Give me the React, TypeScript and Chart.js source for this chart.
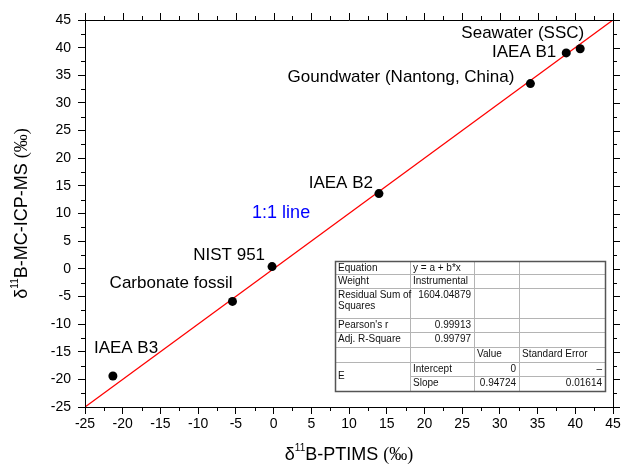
import React, { useEffect, useRef } from "react";
import { Chart, registerables } from "chart.js";

Chart.register(...registerables);

const FONT = "'Liberation Sans', Arial, Helvetica, sans-serif";
const SERIF = "'Liberation Serif', 'Times New Roman', serif";

// ---- data ----
const sampleNames = [
  "IAEA B3",
  "Carbonate fossil",
  "NIST 951",
  "IAEA B2",
  "Goundwater (Nantong, China)",
  "IAEA B1",
  "Seawater (SSC)",
];
const ptimsDelta = [-21.3, -5.45, -0.2, 13.97, 34.05, 38.8, 40.65];
const mcIcpmsDelta = [-19.4, -5.9, 0.4, 13.6, 33.5, 39.05, 39.8];

const oneToOneEnds = [-25, 45];
const oneToOneLabel = "1:1 line";
const oneToOneLabelAt = [1, 10];

const axisMin = -25;
const axisMax = 45;
const majorStep = 5;
const minorStep = 2.5;

const xTitleParts = ["δ", "11", "B-PTIMS ", "(‰)"];
const yTitleParts = ["δ", "11", "B-MC-ICP-MS ", "(‰)"];

const tableRows = [
  ["Equation", "y = a + b*x", "", ""],
  ["Weight", "Instrumental", "", ""],
  ["Residual Sum of\nSquares", "1604.04879", "", ""],
  ["Pearson's r", "0.99913", "", ""],
  ["Adj. R-Square", "0.99797", "", ""],
  ["", "", "Value", "Standard Error"],
  ["E", "Intercept", "0", "–"],
  ["", "Slope", "0.94724", "0.01614"],
];

// ---- styles / layout ----
// label offsets (px) relative to each point: [dx, dy, align]
const labelOffsets: [number, number, CanvasTextAlign][] = [
  [-19, -28, "left"],
  [0, -18, "right"],
  [-7, -11, "right"],
  [-6, -10, "right"],
  [-16, -6, "right"],
  [-10, -1, "right"],
  [4, -15, "right"],
];
const tableColX = [335, 410, 474, 519, 605];
const tableRowY = [261, 274, 288, 318, 332, 347, 362, 376, 391];

function drawTitle(ctx: CanvasRenderingContext2D, parts: string[], cx: number, cy: number) {
  const fonts = [`18px ${FONT}`, `10px ${FONT}`, `18px ${FONT}`, `18px ${SERIF}`];
  const raise = [0, -7, 0, 0];
  const widths = parts.map((p, i) => {
    ctx.font = fonts[i];
    return ctx.measureText(p).width;
  });
  const total = widths.reduce((a, b) => a + b, 0);
  let x = cx - total / 2;
  ctx.textBaseline = "middle";
  ctx.textAlign = "left";
  ctx.fillStyle = "#000";
  parts.forEach((p, i) => {
    ctx.font = fonts[i];
    ctx.fillText(p, x, cy + raise[i]);
    x += widths[i];
  });
}

const decorPlugin = {
  id: "decor",
  afterDraw(chart: any) {
    const ctx: CanvasRenderingContext2D = chart.ctx;
    const xs = chart.scales.x;
    const ys = chart.scales.y;
    const { left, right, top, bottom } = chart.chartArea;
    ctx.save();
    // frame
    ctx.strokeStyle = "#000";
    ctx.lineWidth = 1;
    ctx.beginPath();
    ctx.rect(Math.round(left) + 0.5, Math.round(top) + 0.5, Math.round(right - left), Math.round(bottom - top));
    ctx.stroke();
    // ticks
    ctx.beginPath();
    for (let v = axisMin; v <= axisMax + 1e-9; v += minorStep) {
      const isMajor = Math.abs(v / majorStep - Math.round(v / majorStep)) < 1e-6;
      const len = isMajor ? 7 : 4;
      const px = Math.round(xs.getPixelForValue(v)) + 0.5;
      const py = Math.round(ys.getPixelForValue(v)) + 0.5;
      ctx.moveTo(px, top);
      ctx.lineTo(px, top - len);
      ctx.moveTo(right, py);
      ctx.lineTo(right + len, py);
      if (!isMajor) {
        ctx.moveTo(px, bottom);
        ctx.lineTo(px, bottom + len);
        ctx.moveTo(left, py);
        ctx.lineTo(left - len, py);
      }
    }
    ctx.stroke();

    // point labels
    ctx.fillStyle = "#000";
    ctx.font = `17px ${FONT}`;
    ctx.textBaseline = "middle";
    sampleNames.forEach((name, i) => {
      const px = xs.getPixelForValue(ptimsDelta[i]);
      const py = ys.getPixelForValue(mcIcpmsDelta[i]);
      const [dx, dy, al] = labelOffsets[i];
      ctx.textAlign = al;
      ctx.fillText(name, px + dx, py + dy);
    });
    // 1:1 line label
    ctx.fillStyle = "#0000ff";
    ctx.font = `18px ${FONT}`;
    ctx.textAlign = "center";
    ctx.fillText(
      oneToOneLabel,
      xs.getPixelForValue(oneToOneLabelAt[0]),
      ys.getPixelForValue(oneToOneLabelAt[1])
    );

    // axis titles
    drawTitle(ctx, xTitleParts, (left + right) / 2, 455);
    ctx.save();
    ctx.translate(22, (top + bottom) / 2);
    ctx.rotate(-Math.PI / 2);
    drawTitle(ctx, yTitleParts, 0, 0);
    ctx.restore();

    // table
    const tx0 = tableColX[0];
    const tx1 = tableColX[tableColX.length - 1];
    const ty0 = tableRowY[0];
    const ty1 = tableRowY[tableRowY.length - 1];
    ctx.fillStyle = "#fff";
    ctx.fillRect(tx0, ty0, tx1 - tx0, ty1 - ty0);
    ctx.strokeStyle = "#b4b4b4";
    ctx.lineWidth = 1;
    ctx.beginPath();
    for (let r = 1; r < tableRowY.length - 1; r++) {
      const y = tableRowY[r] + 0.5;
      const startX = r === tableRowY.length - 2 ? tableColX[1] : tx0;
      ctx.moveTo(startX, y);
      ctx.lineTo(tx1, y);
    }
    for (let c = 1; c < tableColX.length - 1; c++) {
      const x = tableColX[c] + 0.5;
      ctx.moveTo(x, ty0);
      ctx.lineTo(x, ty1);
    }
    ctx.stroke();
    ctx.strokeStyle = "#555";
    ctx.lineWidth = 1.5;
    ctx.strokeRect(tx0 + 0.5, ty0 + 0.5, tx1 - tx0, ty1 - ty0);

    ctx.fillStyle = "#111";
    ctx.font = `10px ${FONT}`;
    ctx.textBaseline = "middle";
    tableRows.forEach((row, r) => {
      row.forEach((cell, c) => {
        if (!cell) return;
        const cx0 = tableColX[c];
        const cx1 = tableColX[c + 1];
        let cy = tableRowY[r] + 7.5;
        if (r === 6 && c === 0) cy = (tableRowY[6] + tableRowY[8]) / 2;
        const numeric = /^[-\d.–]+$/.test(cell);
        ctx.textAlign = numeric ? "right" : "left";
        const x = numeric ? cx1 - 3 : cx0 + 3;
        cell.split("\n").forEach((line, li) => {
          ctx.fillText(line, x, cy + li * 11);
        });
      });
    });
    ctx.restore();
  },
};

export default function App() {
  const canvasRef = useRef<HTMLCanvasElement | null>(null);

  useEffect(() => {
    const canvas = canvasRef.current;
    if (!canvas) return;
    const points = ptimsDelta.map((x, i) => ({ x, y: mcIcpmsDelta[i] }));
    const linePts = oneToOneEnds.map((v) => ({ x: v, y: v }));
    const axisCommon = (fitProp: "width" | "height", fitVal: number) => ({
      type: "linear" as const,
      min: axisMin,
      max: axisMax,
      ticks: {
        stepSize: majorStep,
        font: { family: FONT, size: 14 },
        color: "#000",
        padding: fitProp === "width" ? 7 : 2,
      },
      grid: {
        drawOnChartArea: false,
        drawTicks: true,
        tickLength: 7,
        color: "#000",
        lineWidth: 1,
      },
      border: { display: true, color: "#000", width: 1 },
      afterFit: (s: any) => {
        s[fitProp] = fitVal;
      },
    });

    const chart = new Chart(canvas, {
      type: "scatter",
      data: {
        datasets: [
          {
            data: points,
            pointRadius: 4.5,
            pointBackgroundColor: "#000",
            pointBorderColor: "#000",
            pointBorderWidth: 0,
            showLine: false,
          },
          {
            data: linePts,
            showLine: true,
            borderColor: "#ff0000",
            borderWidth: 1.3,
            pointRadius: 0,
            fill: false,
          },
        ],
      },
      options: {
        responsive: false,
        animation: false,
        devicePixelRatio: 1,
        layout: { padding: { left: 0, top: 20, right: 10, bottom: 0 } },
        plugins: {
          legend: { display: false },
          tooltip: { enabled: false },
        },
        scales: {
          x: axisCommon("height", 59),
          y: axisCommon("width", 85),
        },
      },
      plugins: [decorPlugin],
    });
    return () => chart.destroy();
  }, []);

  return (
    <div style={{ position: "absolute", left: 0, top: 0, width: 623, height: 466, background: "#fff" }}>
      <canvas ref={canvasRef} width={623} height={466} />
    </div>
  );
}
